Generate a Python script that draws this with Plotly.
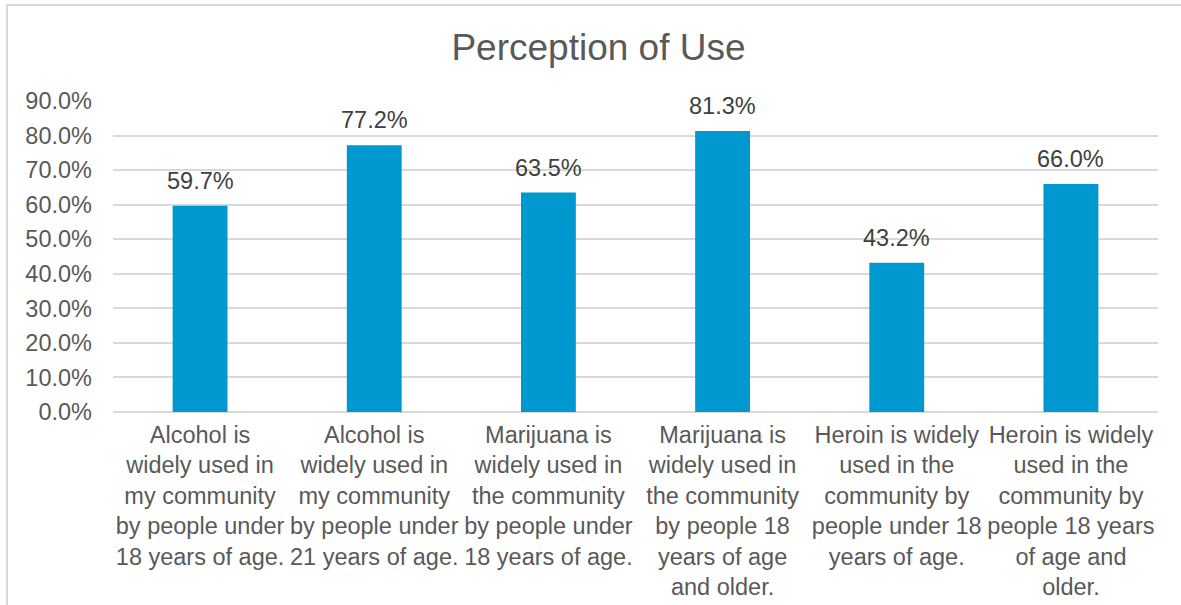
import plotly.graph_objects as go

categories = [
    "Alcohol is<br>widely used in<br>my community<br>by people under<br>18 years of age.",
    "Alcohol is<br>widely used in<br>my community<br>by people under<br>21 years of age.",
    "Marijuana is<br>widely used in<br>the community<br>by people under<br>18 years of age.",
    "Marijuana is<br>widely used in<br>the community<br>by people 18<br>years of age<br>and older.",
    "Heroin is widely<br>used in the<br>community by<br>people under 18<br>years of age.",
    "Heroin is widely<br>used in the<br>community by<br>people 18 years<br>of age and<br>older.",
]
values = [59.7, 77.2, 63.5, 81.3, 43.2, 66.0]
value_labels = ["59.7%", "77.2%", "63.5%", "81.3%", "43.2%", "66.0%"]
y_ticks = [0, 10, 20, 30, 40, 50, 60, 70, 80, 90]
y_ticklabels = ["0.0%", "10.0%", "20.0%", "30.0%", "40.0%", "50.0%", "60.0%", "70.0%", "80.0%", "90.0%"]

FONT = "Arial, Liberation Sans, sans-serif"
BAR = "#0099CF"
TXT = "#595959"
FS = 23.5

fig = go.Figure()
fig.add_trace(go.Bar(
    x=categories, y=values, marker=dict(color=BAR, line=dict(width=0)),
    hoverinfo="skip", showlegend=False,
))

for c, v, t in zip(categories, values, value_labels):
    fig.add_annotation(x=c, y=v, text=t, showarrow=False, xanchor="center",
                       yanchor="bottom", yshift=10,
                       font=dict(family=FONT, size=FS, color="#404040"))

# outer chart frame
fig.add_shape(type="rect", xref="paper", yref="paper",
              x0=-0.1014, x1=1.3, y0=-0.8, y1=1.3087,
              line=dict(color="#D9D9D9", width=2), fillcolor="rgba(0,0,0,0)", layer="below")

fig.update_layout(
    width=1181, height=605,
    margin=dict(l=113, r=23, t=101, b=193, autoexpand=False),
    paper_bgcolor="white", plot_bgcolor="white",
    bargap=0.685,
    font=dict(family=FONT, size=FS, color=TXT),
    title=dict(text="Perception of Use", x=598.5 / 1181, xanchor="center",
               y=1 - 47 / 605, yanchor="middle",
               font=dict(family=FONT, size=37, color=TXT)),
    xaxis=dict(type="category", showgrid=False, showline=False, zeroline=False,
               ticks="", tickfont=dict(family=FONT, size=FS, color=TXT),
               ticklabelstandoff=6, automargin=False, fixedrange=True),
    yaxis=dict(range=[0, 90], tickvals=y_ticks, ticktext=y_ticklabels,
               showgrid=True, gridcolor="#D9D9D9", gridwidth=1.5,
               zeroline=True, zerolinecolor="#D9D9D9", zerolinewidth=2,
               showline=False, ticks="", ticklabelstandoff=20, automargin=False,
               tickfont=dict(family=FONT, size=FS, color=TXT), fixedrange=True),
)

fig.write_html("out.html")
